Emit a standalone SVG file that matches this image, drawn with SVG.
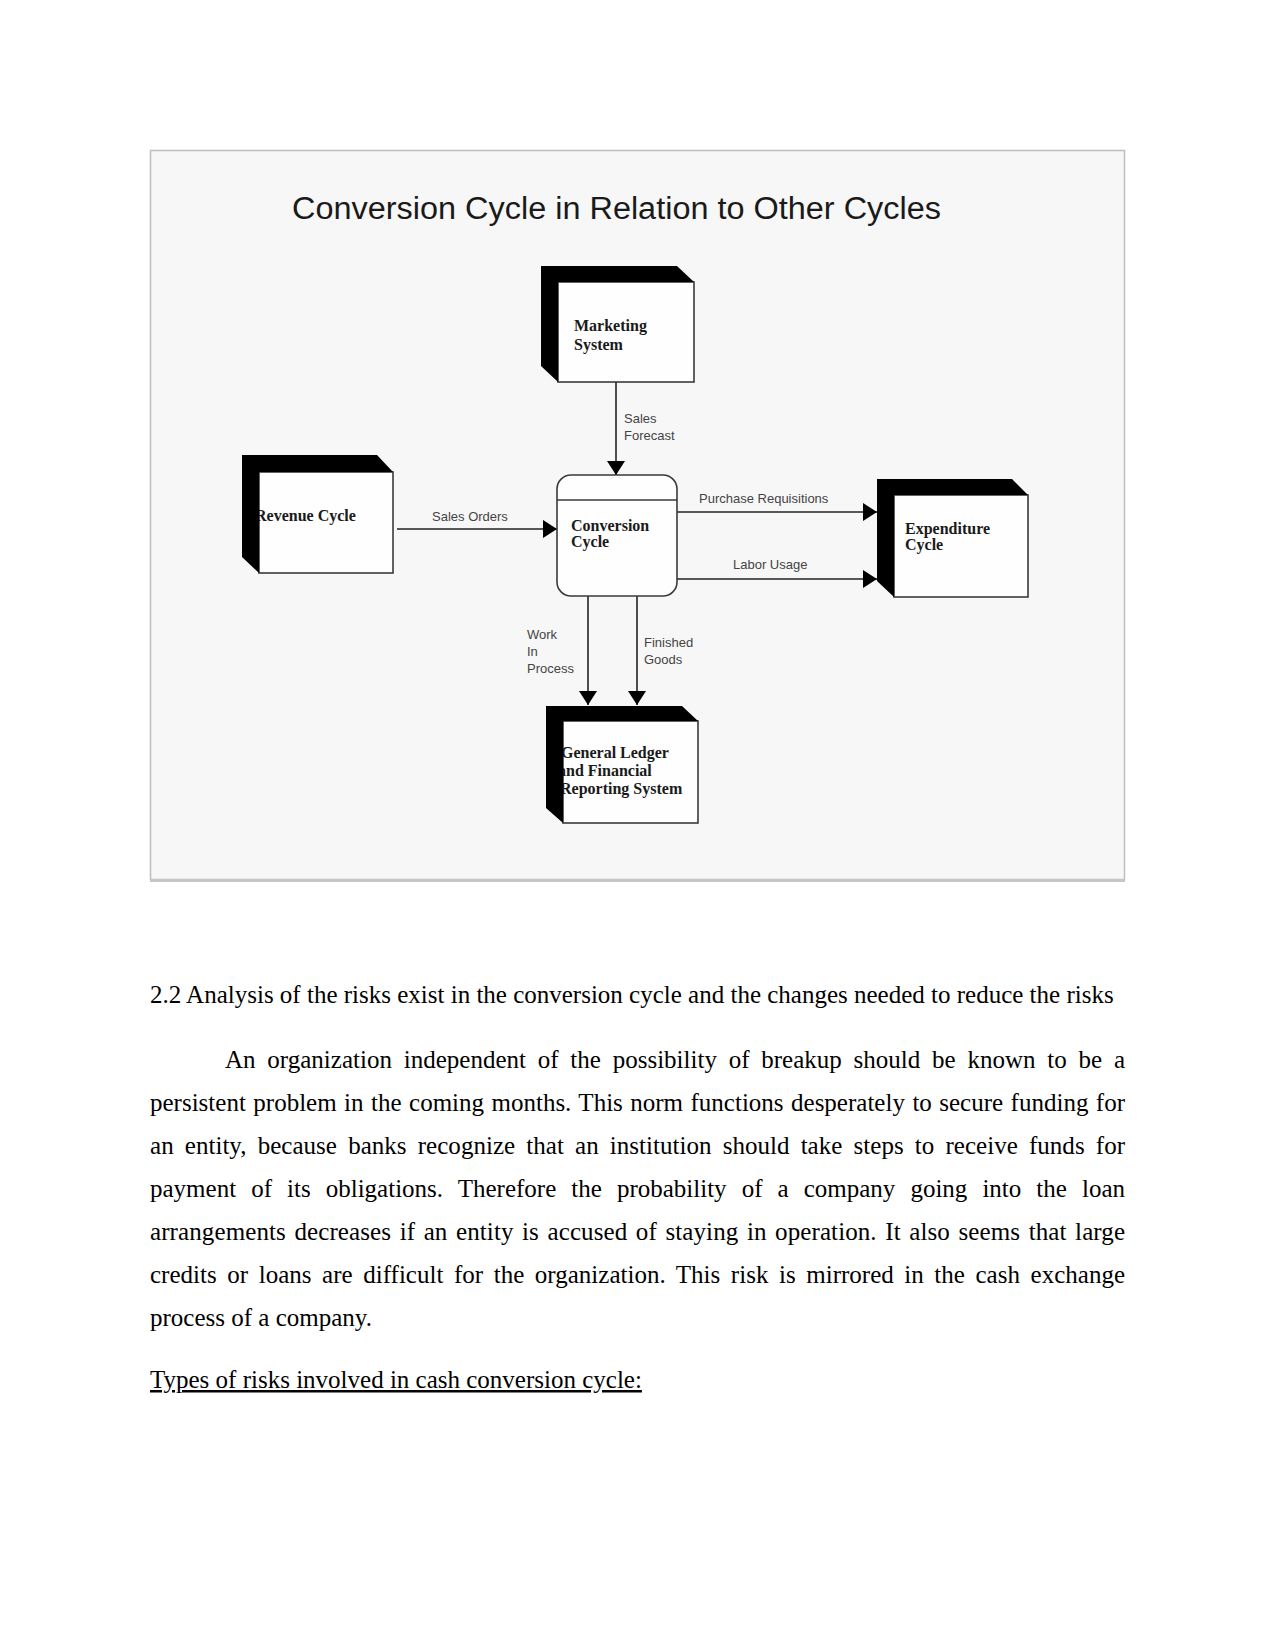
<svg xmlns="http://www.w3.org/2000/svg" width="1275" height="1650" viewBox="0 0 1275 1650">
<style>
.title{font-family:"Liberation Sans",Arial,sans-serif;font-size:31px;fill:#1a1a1a}
.node{font-family:"Liberation Serif","Times New Roman",serif;font-weight:bold;font-size:16px;fill:#1a1a1a}
.lbl{font-family:"Liberation Sans",Arial,sans-serif;font-size:13px;fill:#444}
.face{fill:#fefefe;stroke:#3a3a3a;stroke-width:1.6}
.shadow{fill:#000}
.conn{stroke:#222;stroke-width:1.6;fill:none}
.body{font-family:"Liberation Serif","Times New Roman",serif;font-size:25px;fill:#000}
</style>
<defs>
<marker id="arr" viewBox="0 0 14 18" refX="14" refY="9" markerWidth="14" markerHeight="18" markerUnits="userSpaceOnUse" orient="auto">
<path d="M0,0 L14,9 L0,18 Z" fill="#000"/>
</marker>
</defs>
<rect x="0" y="0" width="1275" height="1650" fill="#fff"/>
<g id="figure-frame">
<rect x="150.5" y="150.5" width="974" height="729" fill="#f7f7f7" stroke="#bdbdbd" stroke-width="1.5"/>
<line x1="150" y1="880.5" x2="1125" y2="880.5" stroke="#c6c6c6" stroke-width="3"/>
</g>
<text class="title" x="292" y="219" textLength="649" lengthAdjust="spacingAndGlyphs">Conversion Cycle in Relation to Other Cycles</text>

<g id="connectors">
<line class="conn" x1="616" y1="382" x2="616" y2="475" marker-end="url(#arr)"/>
<line class="conn" x1="397" y1="529" x2="557" y2="529" marker-end="url(#arr)"/>
<line class="conn" x1="677" y1="512" x2="877" y2="512" marker-end="url(#arr)"/>
<line class="conn" x1="677" y1="579" x2="877" y2="579" marker-end="url(#arr)"/>
<line class="conn" x1="588" y1="596" x2="588" y2="705" marker-end="url(#arr)"/>
<line class="conn" x1="637" y1="596" x2="637" y2="705" marker-end="url(#arr)"/>
<text class="lbl" x="624" y="423">Sales</text>
<text class="lbl" x="624" y="440">Forecast</text>
<text class="lbl" x="432" y="521">Sales Orders</text>
<text class="lbl" x="699" y="503">Purchase Requisitions</text>
<text class="lbl" x="733" y="569">Labor Usage</text>
<text class="lbl" x="527" y="639">Work</text>
<text class="lbl" x="527" y="656">In</text>
<text class="lbl" x="527" y="673">Process</text>
<text class="lbl" x="644" y="647">Finished</text>
<text class="lbl" x="644" y="664">Goods</text>
</g>

<g id="marketing-system">
<rect class="face" x="558" y="282" width="136" height="100"/>
<polygon class="shadow" points="541,266 677,266 694,282 558,282 558,382 541,366"/>
<text class="node" x="574" y="331">Marketing</text>
<text class="node" x="574" y="350">System</text>
</g>

<g id="revenue-cycle">
<rect class="face" x="259" y="472" width="134" height="101"/>
<text class="node" x="255" y="521">Revenue Cycle</text>
<polygon class="shadow" points="242,455 377,455 393,472 259,472 259,573 242,557"/>
</g>

<g id="conversion-cycle">
<rect class="face" x="557" y="475" width="120" height="121" rx="14" ry="14"/>
<line x1="557" y1="500" x2="677" y2="500" stroke="#3a3a3a" stroke-width="1.6"/>
<text class="node" x="571" y="531">Conversion</text>
<text class="node" x="571" y="547">Cycle</text>
</g>

<g id="expenditure-cycle">
<rect class="face" x="894" y="495" width="134" height="102"/>
<polygon class="shadow" points="877,479 1012,479 1028,495 894,495 894,597 877,581"/>
<text class="node" x="905" y="534">Expenditure</text>
<text class="node" x="905" y="550">Cycle</text>
</g>

<g id="general-ledger">
<rect class="face" x="563" y="721" width="135" height="102"/>
<text class="node" x="561" y="758">General Ledger</text>
<text class="node" x="558" y="776">and Financial</text>
<text class="node" x="560" y="794">Reporting System</text>
<polygon class="shadow" points="546,706 682,706 698,721 563,721 563,823 546,808"/>
</g>

<g id="body-text">
<text class="body" x="150" y="1003">2.2 Analysis of the risks exist in the conversion cycle and the changes needed to reduce the risks</text>
<text class="body" x="225" y="1068" word-spacing="5.5" textLength="900" lengthAdjust="spacing">An organization independent of the possibility of breakup should be known to be a</text>
<text class="body" x="150" y="1111" word-spacing="1.2" textLength="975" lengthAdjust="spacing">persistent problem in the coming months. This norm functions desperately to secure funding for</text>
<text class="body" x="150" y="1154" word-spacing="4.9" textLength="975" lengthAdjust="spacing">an entity, because banks recognize that an institution should take steps to receive funds for</text>
<text class="body" x="150" y="1197" word-spacing="8.8" textLength="975" lengthAdjust="spacing">payment of its obligations. Therefore the probability of a company going into the loan</text>
<text class="body" x="150" y="1240" word-spacing="2.2" textLength="975" lengthAdjust="spacing">arrangements decreases if an entity is accused of staying in operation. It also seems that large</text>
<text class="body" x="150" y="1283" word-spacing="4.3" textLength="975" lengthAdjust="spacing">credits or loans are difficult for the organization. This risk is mirrored in the cash exchange</text>
<text class="body" x="150" y="1326">process of a company.</text>
<text class="body" x="150" y="1388" text-decoration="underline">Types of risks involved in cash conversion cycle:</text>
</g>
</svg>
